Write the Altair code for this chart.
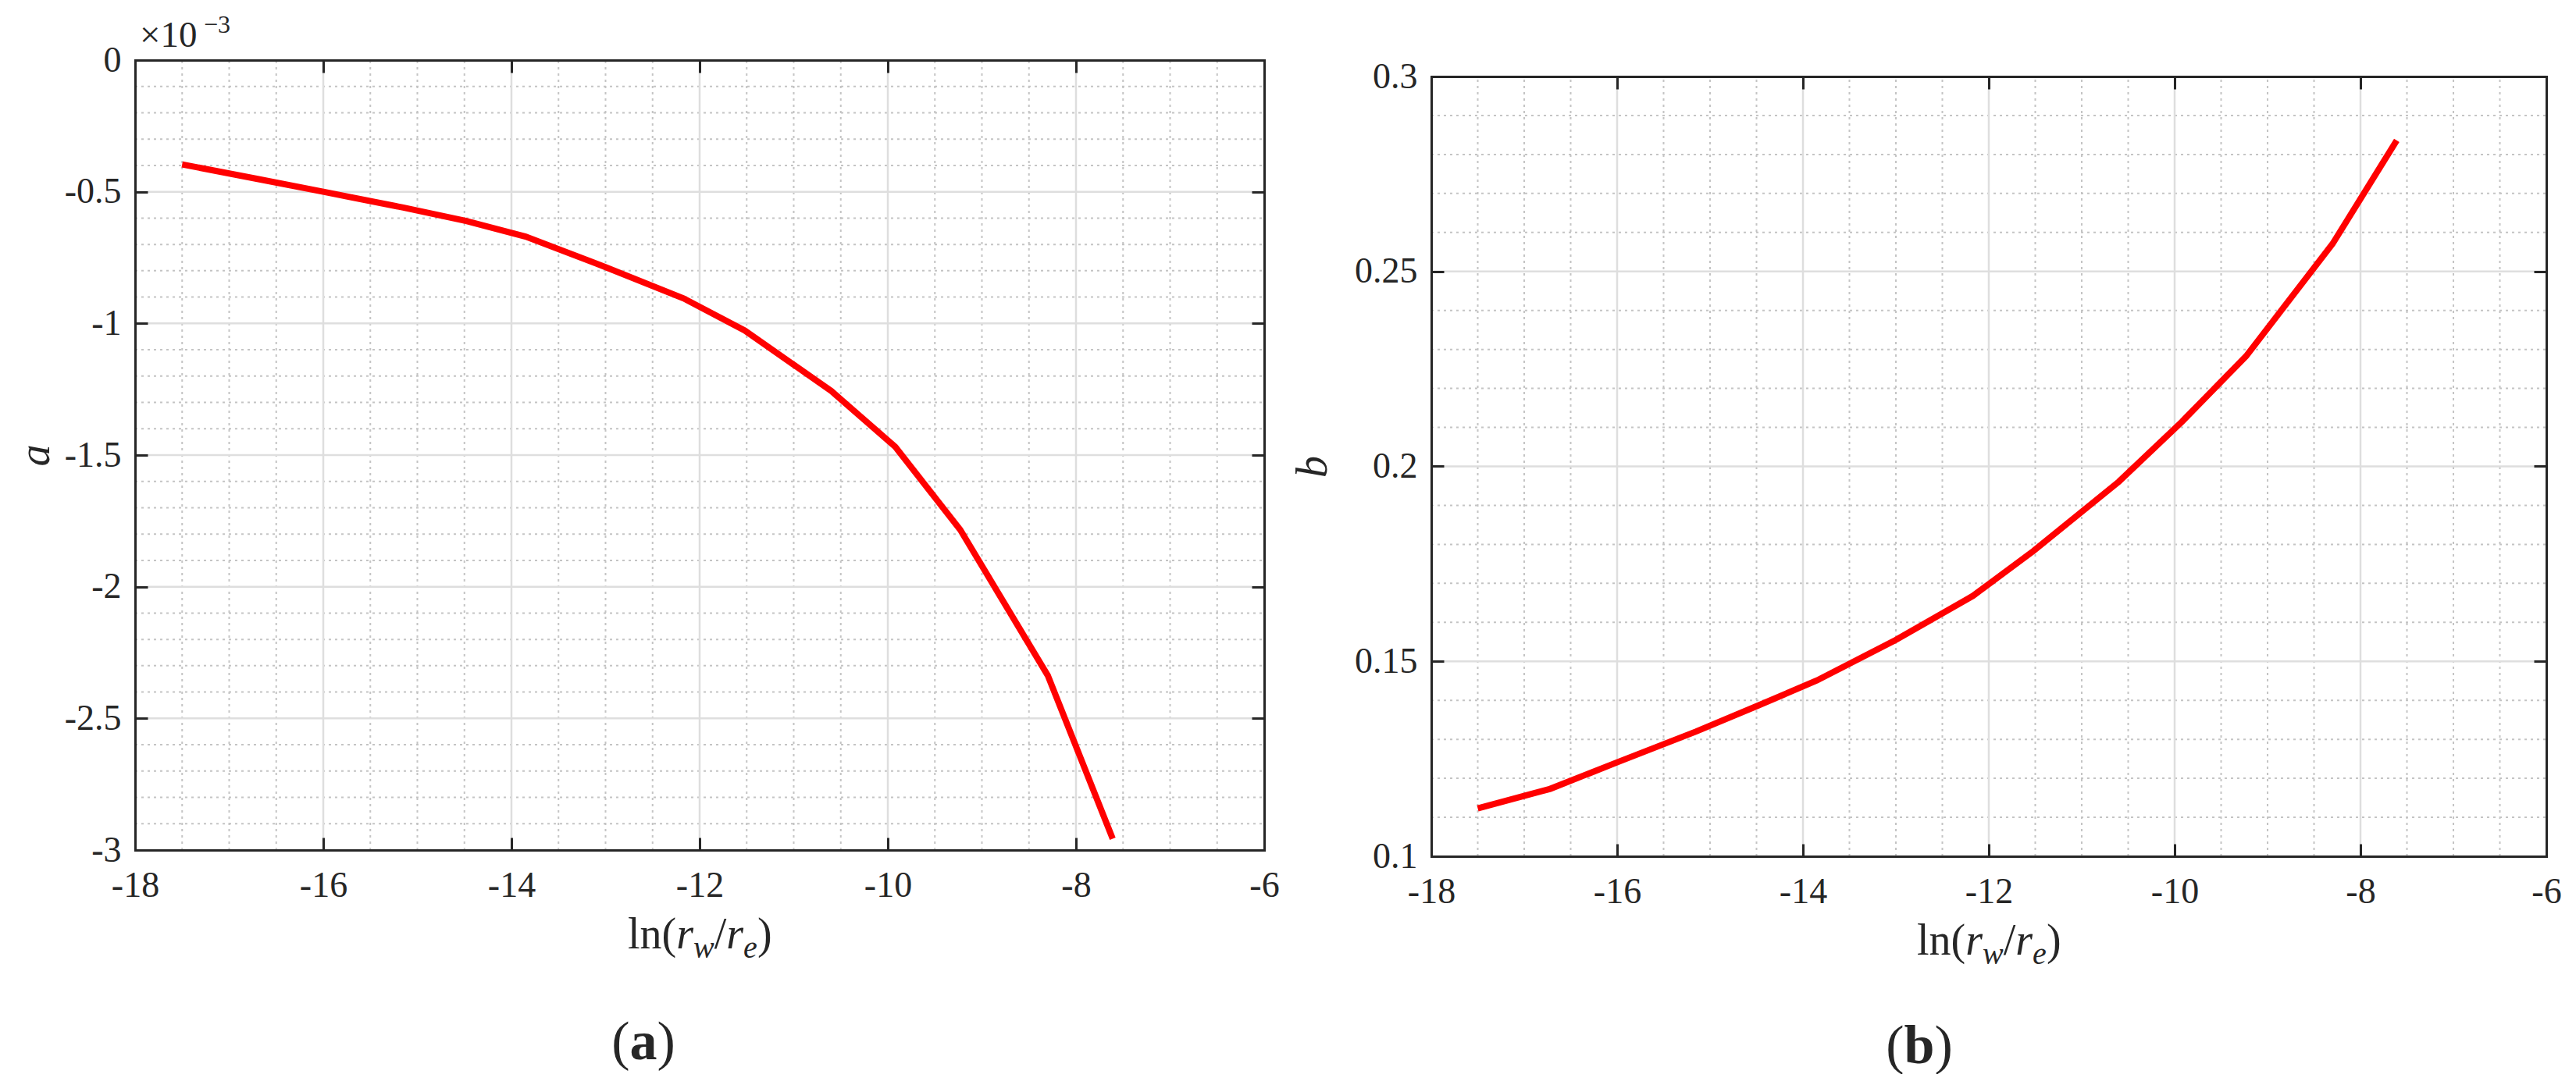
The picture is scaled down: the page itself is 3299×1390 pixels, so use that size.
import altair as alt
import pandas as pd

# ---------------- data ----------------
ln_ratio = [-17.5, -16.72, -16.0, -15.15, -14.48, -13.85, -13.0, -12.17,
            -11.52, -10.6, -9.92, -9.23, -8.3, -7.61]
a_e3 = [-0.396, -0.450, -0.500, -0.560, -0.611, -0.670, -0.786, -0.905,
        -1.027, -1.257, -1.469, -1.784, -2.337, -2.957]          # a in units of 1e-3
b_vals = [0.1123, 0.1173, 0.1241, 0.1320, 0.1387, 0.1451, 0.1555, 0.1668,
          0.1783, 0.1961, 0.2115, 0.2283, 0.2571, 0.2836]

x_major = [-18, -16, -14, -12, -10, -8, -6]
x_minor = [-17.5, -17, -16.5, -15.5, -15, -14.5, -13.5, -13, -12.5,
           -11.5, -11, -10.5, -9.5, -9, -8.5, -7.5, -7, -6.5]
a_major = [0, -0.5, -1, -1.5, -2, -2.5, -3]
a_minor = [-0.1, -0.2, -0.3, -0.4, -0.6, -0.7, -0.8, -0.9, -1.1, -1.2, -1.3, -1.4,
           -1.6, -1.7, -1.8, -1.9, -2.1, -2.2, -2.3, -2.4, -2.6, -2.7, -2.8, -2.9]
b_major = [0.1, 0.15, 0.2, 0.25, 0.3]
b_minor = [0.11, 0.12, 0.13, 0.14, 0.16, 0.17, 0.18, 0.19,
           0.21, 0.22, 0.23, 0.24, 0.26, 0.27, 0.28, 0.29]

x_domain = [-18, -6]
a_domain = [-3, 0]
b_domain = [0.1, 0.3]

x_title_parts = ["ln(", "r", "w", "/", "r", "e", ")"]
exponent_parts = ["\u00d710", "\u22123"]
captions = ["a", "b"]
y_titles = ["a", "b"]

# ---------------- styling / layout ----------------
FONT = "Liberation Serif"
AX = "#262626"
MAJOR = "#dedede"
MINOR = "#c4c4c4"
LABEL_EXPR = "datum.value < 0 ? '-' + format(-datum.value, '~g') : format(datum.value, '~g')"

VIEW_W, VIEW_H = 3088, 1020
# panel a occupies x 0..1446, y 0..1012 ; panel b occupies x 1660..3088, y 21..1020
PA = dict(x0=0, x1=1446, y0=0, y1=1012)
PB = dict(x0=1660, x1=3088, y0=21, y1=1020)


def txt(s, x, y, size, style="normal", weight="normal", align="left", baseline="alphabetic"):
    return alt.Chart(pd.DataFrame({"t": [s]})).mark_text(
        font=FONT, fontSize=size, fontStyle=style, fontWeight=weight,
        align=align, baseline=baseline, color=AX
    ).encode(x=alt.value(x), y=alt.value(y), text="t:N")


def panel(P, yvals, ydomain, ymaj, ymin, ylab, ytp, cap, cap_x, cap_dy):
    W = P["x1"] - P["x0"]
    xs = alt.Scale(domain=x_domain, range=[P["x0"], P["x1"]], nice=False, zero=False)
    ys = alt.Scale(domain=ydomain, range=[P["y1"], P["y0"]], nice=False, zero=False)
    tick = dict(labels=False, ticks=True, tickSize=16, tickWidth=3, tickColor=AX,
                domain=True, domainColor=AX, domainWidth=3, domainCap="square",
                grid=False, title=None, zindex=1)
    ylo, yhi = ydomain

    def vgrid(vals, color, width, dash, axis):
        df = pd.DataFrame({"v": vals, "lo": [ylo] * len(vals), "hi": [yhi] * len(vals)})
        kw = dict(color=color, strokeWidth=width)
        if dash:
            kw["strokeDash"] = dash
        return alt.Chart(df).mark_rule(**kw).encode(
            x=alt.X("v:Q", scale=xs, axis=axis),
            y=alt.Y("lo:Q", scale=ys, axis=None),
            y2="hi:Q")

    def hgrid(vals, color, width, dash, axis):
        df = pd.DataFrame({"v": vals, "lo": [x_domain[0]] * len(vals), "hi": [x_domain[1]] * len(vals)})
        kw = dict(color=color, strokeWidth=width)
        if dash:
            kw["strokeDash"] = dash
        return alt.Chart(df).mark_rule(**kw).encode(
            y=alt.Y("v:Q", scale=ys, axis=axis),
            x=alt.X("lo:Q", scale=xs, axis=None),
            x2="hi:Q")

    # frame + inward ticks come from axes shifted with negative offsets
    top_frame = alt.Axis(orient="bottom", offset=-(VIEW_H - P["y0"]), values=x_major, **tick)
    bot_frame = alt.Axis(orient="top", offset=-P["y1"], values=x_major, **tick)
    right_frame = alt.Axis(orient="left", offset=-P["x1"], values=ymaj, **tick)
    left_frame = alt.Axis(orient="right", offset=-(VIEW_W - P["x0"]), values=ymaj, **tick)

    minor_x = vgrid(x_minor, MINOR, 2, [3, 5], top_frame)
    major_x = vgrid(x_major, MAJOR, 2.5, None, bot_frame)
    minor_y = hgrid(ymin, MINOR, 2, [3, 5], right_frame)
    major_y = hgrid(ymaj, MAJOR, 2.5, None, left_frame)

    df = pd.DataFrame({"x": ln_ratio, "y": yvals})
    line = alt.Chart(df).mark_line(color="#ff0000", strokeWidth=8).encode(
        x=alt.X("x:Q", scale=xs, axis=alt.Axis(
            orient="bottom", offset=-(VIEW_H - P["y1"]), values=x_major, labelExpr=LABEL_EXPR,
            labelFont=FONT, labelFontSize=46, labelColor=AX, labelPadding=23,
            labelFlush=False, labelOverlap=False, ticks=False, tickSize=0,
            domain=False, grid=False, title=None)),
        y=alt.Y("y:Q", scale=ys, axis=alt.Axis(
            orient="left", offset=-P["x0"], values=ymaj, labelExpr=LABEL_EXPR,
            labelFont=FONT, labelFontSize=46, labelColor=AX, labelPadding=18,
            labelFlush=False, labelOverlap=False, ticks=False, tickSize=0,
            domain=False, grid=False, title=ylab, titleFont=FONT, titleFontSize=56,
            titleFontStyle="italic", titleFontWeight="normal", titleColor=AX,
            titlePadding=ytp)),
    )

    # x title  ln(r_w / r_e), composed of pieces
    pos = P["x0"] + W / 2 - 92
    yb = P["y1"] + 126
    widths = [62.2, 21.8, 26.7, 15.6, 21.8, 17.8, 18.6]
    styles = ["normal", "italic", "italic", "normal", "italic", "italic", "normal"]
    sizes = [56, 56, 40, 56, 56, 40, 56]
    drops = [0, 0, 12, 0, 0, 12, 0]
    title_layers = []
    for s, w, st, sz, dp in zip(x_title_parts, widths, styles, sizes, drops):
        title_layers.append(txt(s, pos, yb + dp, sz, style=st))
        pos += w

    # caption (a) / (b)
    lw = 35 if cap == "a" else 39
    cx = P["x0"] + cap_x
    cy = P["y1"] + cap_dy
    cap_layers = [
        txt("(", cx - lw / 2, cy, 70, align="right"),
        txt(cap, cx, cy, 70, weight="bold", align="center"),
        txt(")", cx + lw / 2, cy, 70, align="left"),
    ]
    return [minor_x, minor_y, major_x, major_y, line] + title_layers + cap_layers


layers_a = panel(PA, a_e3, a_domain, a_major, a_minor, y_titles[0], 8, captions[0], 651, 268)
layers_b = panel(PB, b_vals, b_domain, b_major, b_minor, y_titles[1], 24, captions[1], 625, 265)
exp_layers = [
    txt(exponent_parts[0], 6, -17, 47),
    txt(exponent_parts[1], 88, -35, 32),
]

chart = alt.layer(*layers_a, *layers_b, *exp_layers).resolve_scale(
    x="independent", y="independent"
).resolve_axis(
    x="independent", y="independent"
).properties(
    width=VIEW_W, height=VIEW_H,
    padding={"left": 9, "top": 8, "right": 0, "bottom": 0},
    background="white",
).configure_view(
    stroke="transparent"
).configure_axis(
    labelFont=FONT, titleFont=FONT
).configure_text(
    font=FONT
)

chart.save("out.html", embed_options={"renderer": "svg", "actions": False})
